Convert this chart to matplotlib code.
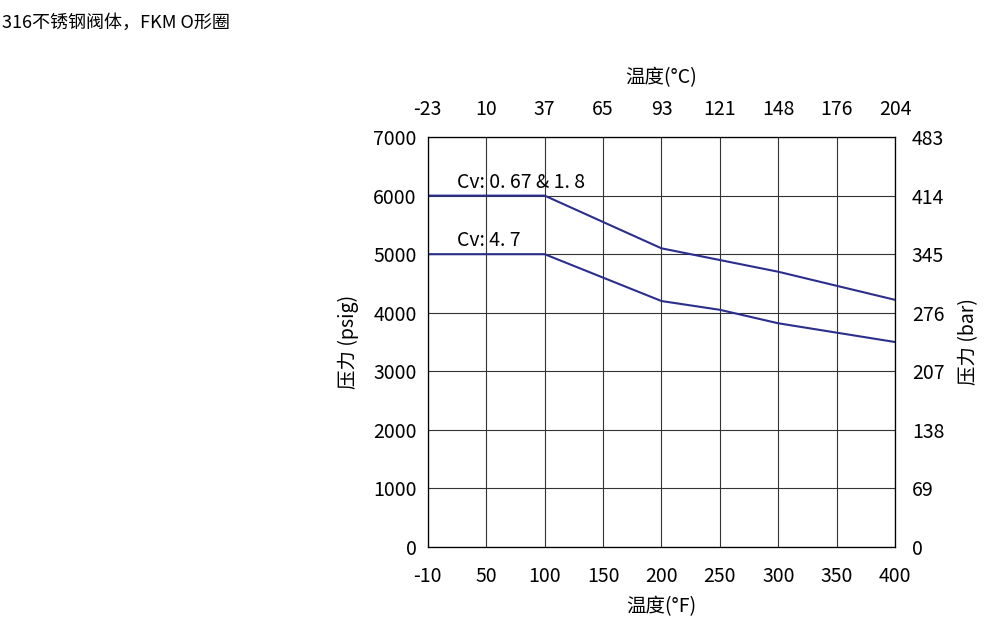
import matplotlib
matplotlib.use("Agg")
import matplotlib.pyplot as plt

plt.rcParams['font.family'] = ['Noto Sans CJK SC', 'DejaVu Sans']

f_ticks = ["-10", "50", "100", "150", "200", "250", "300", "350", "400"]
c_ticks = ["-23", "10", "37", "65", "93", "121", "148", "176", "204"]
bar_ticks = ["0", "69", "138", "207", "276", "345", "414", "483"]
psig_ticks = [0, 1000, 2000, 3000, 4000, 5000, 6000, 7000]

# x positions are tick indices (chart uses evenly spaced ticks)
x_idx = [0, 2, 4, 5, 6, 8]
cv_small = [6000, 6000, 5100, 4900, 4700, 4220]
cv_large = [5000, 5000, 4200, 4050, 3820, 3500]

fs = 14
fig = plt.figure(figsize=(9.88, 6.23), dpi=100)
ax = fig.add_axes([0.433, 0.122, 0.473, 0.658])
col = '#2b2e8c'
ax.plot(x_idx, cv_small, color=col, lw=1.5)
ax.plot(x_idx, cv_large, color=col, lw=1.5)
ax.set_xlim(0, 8)
ax.set_ylim(0, 7000)
ax.set_xticks(range(9))
ax.set_xticklabels(f_ticks, fontsize=fs)
ax.set_yticks(psig_ticks)
ax.set_yticklabels([str(v) for v in psig_ticks], fontsize=fs)
ax.grid(True, color='#333333', lw=0.8)
ax.tick_params(axis='x', length=0, pad=14)
ax.tick_params(axis='y', length=0, pad=8)
for s in ax.spines.values():
    s.set_color('#222222')
ax.set_xlabel("温度(°F)", fontsize=fs, labelpad=6)
ax.set_ylabel("压力 (psig)", fontsize=fs, labelpad=10)

ax.text(0.5, 6050, "Cv: 0. 67 & 1. 8", fontsize=fs, va='bottom')
ax.text(0.5, 5050, "Cv: 4. 7", fontsize=fs, va='bottom')

axt = ax.twiny()
axt.set_xlim(0, 8)
axt.set_xticks(range(9))
axt.set_xticklabels(c_ticks, fontsize=fs)
axt.tick_params(length=0, pad=12)
axt.set_xlabel("温度(°C)", fontsize=fs, labelpad=12)

axr = ax.twinx()
axr.set_ylim(0, 7000)
axr.set_yticks(psig_ticks)
axr.set_yticklabels(bar_ticks, fontsize=fs)
axr.tick_params(length=0, pad=12)
axr.set_ylabel("压力 (bar)", fontsize=fs, labelpad=10)

fig.text(0.002, 0.978, "316不锈钢阀体，FKM O形圈", fontsize=13, va='top', ha='left')

fig.savefig("out.png", dpi=100, facecolor='white')
